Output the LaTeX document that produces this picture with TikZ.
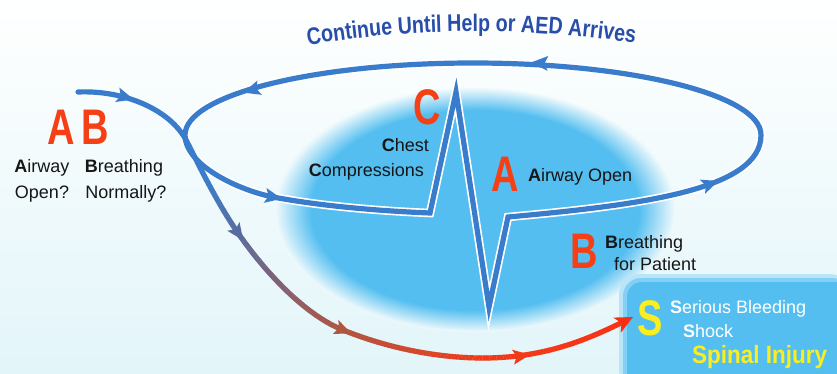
\documentclass[tikz,border=0pt]{standalone}
\usepackage{fontspec}
\setmainfont{Liberation Sans}
\newfontfamily\bigfont[FakeStretch=0.76]{Liberation Sans}
\newfontfamily\titlefont[FakeStretch=0.82]{Liberation Sans}
\newfontfamily\spinalfont[FakeStretch=0.9]{Liberation Sans}
\usetikzlibrary{decorations.markings,decorations.text}
\definecolor{lineblue}{RGB}{58,124,204}
\definecolor{titleblue}{RGB}{40,78,170}
\definecolor{blobc}{RGB}{84,190,240}
\definecolor{bgc}{RGB}{240,250,252}
\definecolor{bgbot}{RGB}{226,245,249}
\definecolor{greyb}{RGB}{88,108,160}
\definecolor{brownc}{RGB}{175,85,65}
\definecolor{redc}{RGB}{240,58,25}
\definecolor{endred}{RGB}{248,48,18}
\definecolor{bigred}{RGB}{245,64,22}
\definecolor{ylw}{RGB}{250,238,30}
\definecolor{txt}{RGB}{22,22,22}
\pgfdeclareradialshading{blobshade}{\pgfpoint{0bp}{0bp}}{color(0bp)=(blobc); color(20.5bp)=(blobc); color(25bp)=(bgc); color(50bp)=(bgc)}
\newcommand\barbhead[3]{\fill[#3,shift={(#1)},rotate=#2] (9pt,0pt) -- (-8pt,7.5pt) -- (-4.5pt,0pt) -- (-8pt,-7.5pt) -- cycle;}
\newcommand\tiphead[3]{\fill[#3,shift={(#1)},rotate=#2] (0pt,0pt) -- (-18pt,8.5pt) -- (-13pt,0pt) -- (-18pt,-8.5pt) -- cycle;}
\newcommand\gradpick{%
  \pgfmathsetmacro\ff{\pgfkeysvalueof{/pgf/decoration/mark info/distance from start}/\pgfdecoratedpathlength}%
  \ifdim\ff pt<0.08pt \colorlet{gc}{lineblue}%
  \else\ifdim\ff pt<0.19pt \pgfmathsetmacro\pp{(\ff-0.08)/0.11*100}\colorlet{gc}{greyb!\pp!lineblue}%
  \else\ifdim\ff pt<0.45pt \pgfmathsetmacro\pp{(\ff-0.19)/0.26*100}\colorlet{gc}{brownc!\pp!greyb}%
  \else\ifdim\ff pt<0.71pt \pgfmathsetmacro\pp{(\ff-0.45)/0.26*100}\colorlet{gc}{redc!\pp!brownc}%
  \else \pgfmathsetmacro\pp{min(100,(\ff-0.71)/0.29*100)}\colorlet{gc}{endred!\pp!redc}%
  \fi\fi\fi\fi}
\tikzset{
  gradstroke/.style={decorate,decoration={markings,
    mark=between positions 0 and -9pt step 1.4pt with {\gradpick\fill[gc] (-0.85pt,-2.6pt) rectangle (0.85pt,2.6pt);}}},
  lbl/.style={text=txt,inner sep=0pt,font=\fontsize{18}{20}\selectfont},
  wlbl/.style={text=white,inner sep=0pt,font=\fontsize{18}{20}\selectfont},
  big/.style={text=bigred,inner sep=0pt,font=\bigfont\bfseries\fontsize{50}{50}\selectfont},
  loopline/.style={draw=lineblue,line width=5.2pt,line join=miter},
  halo/.style={draw=white,line width=8.5pt,line join=miter}
}
\begin{document}
\begin{tikzpicture}[x=1pt,y=-1pt]
\useasboundingbox (0,0) rectangle (837,374);
% background
\shade[top color=white,bottom color=bgbot] (0,0) rectangle (837,374);
% blob
\shade[shading=blobshade] (475,210) ellipse (200 and 122);
% S box
\fill[blobc!35!bgc,rounded corners=20pt] (619,274) rectangle (850,390);
\fill[blobc!70!bgc,rounded corners=18pt] (623,278) rectangle (850,390);
\fill[blobc,rounded corners=15pt] (627,282) rectangle (850,390);
% coordinates
\coordinate (ll) at (185,135);
\coordinate (rl) at (761,135);
\coordinate (top) at (473,63);
\coordinate (b1) at (273,197);
\coordinate (k1) at (430,213);
\coordinate (pk) at (456,92);
\coordinate (tr) at (489,307);
\coordinate (k2) at (508,217);
\coordinate (e0) at (78,92);
\coordinate (j) at (186,140);
\coordinate (a1) at (238,233);
\coordinate (a2) at (343,330);
\coordinate (bt) at (483,358);
\coordinate (a3) at (521,356);
\coordinate (end) at (633,317);
\coordinate (ar0) at (125,97);
\coordinate (artop) at (540,63);
\coordinate (arul) at (252,90);
\coordinate (arr) at (710,184);
\coordinate (t1) at (303,46);
\coordinate (t2) at (640,44);
% loop
\foreach \st in {halo,loopline}{
\path[\st] (ll) .. controls (185,165) and (238,190) .. (b1)
  .. controls (320,206) and (380,211) .. (k1) -- (pk) -- (tr) -- (k2)
  .. controls (640,205) and (761,190) .. (rl)
  .. controls (761,95) and (632,63) .. (top)
  .. controls (314,63) and (185,95) .. cycle;
}
% entry line
\draw[lineblue,line width=5.2pt,line cap=round] (e0) .. controls (125,90) and (170,110) .. (j);
\path[gradstroke] (j) .. controls (194,155) and (215,200) .. (a1)
  .. controls (265,272) and (305,315) .. (a2)
  .. controls (390,349) and (440,358) .. (bt)
  .. controls (550,358) and (595,336) .. (end);
% arrowheads
\barbhead{ar0}{-16}{lineblue}
\barbhead{artop}{177}{lineblue}
\barbhead{arul}{-163}{lineblue}
\barbhead{b1}{-11}{lineblue}
\barbhead{arr}{20}{lineblue}
\barbhead{a1}{-55}{greyb}
\barbhead{a2}{-22}{brownc}
\barbhead{a3}{8}{redc}
\tiphead{end}{27}{endred}
% title
\path[decorate,decoration={text along path,text align=center,
  text={|\titlefont\bfseries\fontsize{24}{24}\selectfont\color{titleblue}|Continue Until Help or AED Arrives}}]
  (t1) .. controls (415,27) and (530,27) .. (t2);
% big letters
\node[big,anchor=base] (bA1) at (61,145) {A};
\node[big,anchor=base] (bB1) at (95,145) {B};
\node[big,anchor=base] (bC) at (427,125) {C};
\node[big,anchor=base] (bA2) at (505,192) {A};
\node[big,anchor=base] (bB2) at (584,268) {B};
\node[big,anchor=base,text=ylw] (bS) at (650,335) {S};
% small labels
\node[lbl,anchor=base] (l1) at (42,173) {\textbf{A}irway};
\node[lbl,anchor=base] (l2) at (42,198) {Open?};
\node[lbl,anchor=base] (l3) at (124,173) {\textbf{B}reathing};
\node[lbl,anchor=base] (l4) at (126,198) {Normally?};
\node[lbl,anchor=base east] (l5) at (429,152) {\textbf{C}hest};
\node[lbl,anchor=base east] (l6) at (424,177) {\textbf{C}ompressions};
\node[lbl,anchor=base west] (l7) at (528,182) {\textbf{A}irway Open};
\node[lbl,anchor=base west] (l8) at (605,248) {\textbf{B}reathing};
\node[lbl,anchor=base west] (l9) at (614,270) {for Patient};
\node[wlbl,anchor=base west] (l10) at (670,313) {\textbf{S}erious Bleeding};
\node[wlbl,anchor=base west] (l11) at (683,337) {\textbf{S}hock};
\node[inner sep=0pt,anchor=base west,text=ylw,font=\spinalfont\bfseries\fontsize{25}{25}\selectfont] (l12) at (692,363) {Spinal Injury};
\end{tikzpicture}
\end{document}
